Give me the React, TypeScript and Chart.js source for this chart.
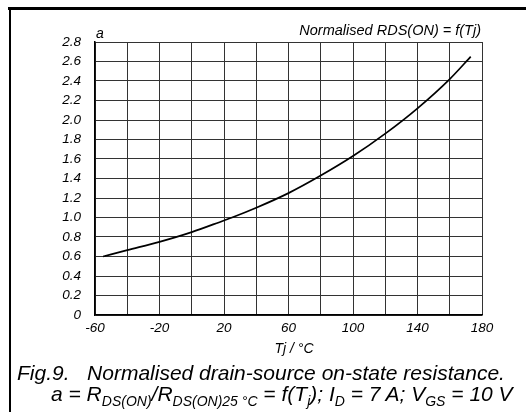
import React, { useEffect, useRef } from "react";
import { Chart, registerables } from "chart.js";

Chart.register(...registerables);

// Data
const tempC = [-55, -40, -20, 0, 20, 25, 40, 60, 80, 100, 120, 140, 160, 173];
const normRds = [0.6, 0.665, 0.75, 0.85, 0.97, 1.0, 1.1, 1.25, 1.43, 1.63, 1.86, 2.12, 2.42, 2.65];
const xTickValues = [-60, -40, -20, 0, 20, 40, 60, 80, 100, 120, 140, 160, 180];
const xTickLabels = [-60, -20, 20, 60, 100, 140, 180];
const yTickValues = [0, 0.2, 0.4, 0.6, 0.8, 1.0, 1.2, 1.4, 1.6, 1.8, 2.0, 2.2, 2.4, 2.6, 2.8];
const yTickLabels = ["0", "0.2", "0.4", "0.6", "0.8", "1.0", "1.2", "1.4", "1.6", "1.8", "2.0", "2.2", "2.4", "2.6", "2.8"];

const chartTitle = "Normalised RDS(ON) = f(Tj)";
const yAxisTitle = "a";
const xAxisTitle = "Tj / \u00B0C";

const FONT = "'Liberation Sans', Arial, Helvetica, sans-serif";

const textPlugin = {
  id: "extraText",
  afterDraw(chart: any) {
    const ctx = chart.ctx;
    const area = chart.chartArea;
    ctx.save();
    ctx.fillStyle = "#000";
    ctx.textBaseline = "alphabetic";
    ctx.textAlign = "left";
    ctx.font = `italic 14px ${FONT}`;
    ctx.fillText(yAxisTitle, area.left + 1, area.top - 4);
    ctx.textAlign = "right";
    ctx.font = `italic 14.5px ${FONT}`;
    ctx.fillText(chartTitle, area.right - 1, area.top - 7);
    ctx.textAlign = "center";
    ctx.font = `italic 14px ${FONT}`;
    ctx.fillText(xAxisTitle, 294, 353);
    ctx.restore();
  },
};

export default function App() {
  const ref = useRef<HTMLCanvasElement | null>(null);

  useEffect(() => {
    if (!ref.current) return;
    const chart = new Chart(ref.current, {
      type: "line",
      data: {
        datasets: [
          {
            data: tempC.map((t, i) => ({ x: t, y: normRds[i] })),
            borderColor: "#000",
            borderWidth: 1.7,
            pointRadius: 0,
            tension: 0.4,
            cubicInterpolationMode: "monotone",
            fill: false,
          },
        ],
      },
      options: {
        responsive: false,
        animation: false,
        devicePixelRatio: 1,
        layout: { padding: { top: 42, right: 50, left: 0, bottom: 0 } },
        plugins: { legend: { display: false }, tooltip: { enabled: false }, title: { display: false } },
        scales: {
          x: {
            type: "linear",
            min: -60,
            max: 180,
            afterBuildTicks: (s: any) => {
              s.ticks = xTickValues.map((v) => ({ value: v }));
            },
            afterFit: (s: any) => {
              s.height = 97;
            },
            ticks: {
              autoSkip: false,
              maxRotation: 0,
              padding: 5,
              color: "#000",
              font: { family: FONT, size: 13.5, style: "italic" },
              callback: (v: any) => (xTickLabels.includes(Number(v)) ? String(v) : ""),
            },
            grid: { color: "#333", lineWidth: 1, drawTicks: false },
            border: { color: "#000", width: 1.5 },
          },
          y: {
            type: "linear",
            min: 0,
            max: 2.8,
            afterBuildTicks: (s: any) => {
              s.ticks = yTickValues.map((v) => ({ value: v }));
            },
            afterFit: (s: any) => {
              s.width = 95;
            },
            ticks: {
              autoSkip: false,
              padding: 14,
              color: "#000",
              font: { family: FONT, size: 13.5, style: "italic" },
              callback: (v: any) => {
                const i = yTickValues.findIndex((t) => Math.abs(t - Number(v)) < 1e-6);
                return i >= 0 ? yTickLabels[i] : "";
              },
            },
            grid: { color: "#333", lineWidth: 1, drawTicks: false },
            border: { color: "#000", width: 1.5 },
          },
        },
      },
      plugins: [textPlugin],
    } as any);
    return () => chart.destroy();
  }, []);

  const capStyle: React.CSSProperties = {
    position: "absolute",
    fontFamily: FONT,
    fontStyle: "italic",
    fontSize: 21,
    color: "#000",
    whiteSpace: "nowrap",
    lineHeight: "22px",
  };
  const sub: React.CSSProperties = { fontSize: 14, verticalAlign: "-5px", lineHeight: 0 };

  return (
    <div style={{ position: "absolute", left: 0, top: 0, width: 532, height: 412, background: "#fff", overflow: "hidden" }}>
      <canvas ref={ref} width={532} height={412} style={{ position: "absolute", left: 0, top: 0 }} />
      <div style={{ position: "absolute", left: 8, top: 7, width: 518, height: 3, background: "#000" }} />
      <div style={{ position: "absolute", left: 9, top: 7, width: 2, height: 405, background: "#000" }} />
      <div style={{ ...capStyle, left: 17, top: 362 }}>
        Fig.9.{"\u00A0\u00A0\u00A0"}Normalised drain-source on-state resistance.
      </div>
      <div style={{ ...capStyle, left: 51, top: 383 }}>
        a = R<span style={sub}>DS(ON)</span>/R<span style={sub}>DS(ON)25 {"\u00B0"}C</span> = f(T<span style={sub}>j</span>); I
        <span style={sub}>D</span> = 7 A; V<span style={sub}>GS</span> = 10 V
      </div>
    </div>
  );
}
